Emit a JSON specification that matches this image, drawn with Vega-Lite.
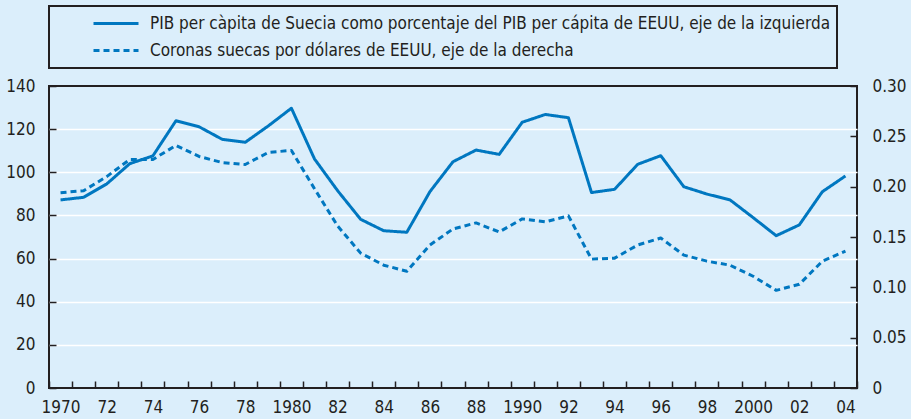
{
  "$schema": "https://vega.github.io/schema/vega-lite/v6.json",
  "width": 808,
  "height": 302,
  "autosize": {"type": "none"},
  "padding": {"left": 49, "top": 86, "right": 54, "bottom": 31},
  "background": "#dbeefb",
  "config": {
    "view": {"stroke": "#231f20", "strokeWidth": 2, "fill": null},
    "font": "DejaVu Sans Condensed",
    "axis": {
      "labelFont": "DejaVu Sans Condensed",
      "labelFontSize": 17,
      "labelColor": "#231f20",
      "tickColor": "#231f20",
      "tickWidth": 1.5,
      "domain": false,
      "title": null
    },
    "legend": {
      "labelFont": "DejaVu Sans Condensed",
      "labelFontSize": 17,
      "labelColor": "#231f20",
      "strokeWidth": 2
    }
  },
  "data": {
    "values": [
      {"year": 1970, "pib": 87.2, "sek": 0.194},
      {"year": 1971, "pib": 88.4, "sek": 0.196},
      {"year": 1972, "pib": 94.6, "sek": 0.210},
      {"year": 1973, "pib": 104.0, "sek": 0.227},
      {"year": 1974, "pib": 107.6, "sek": 0.227},
      {"year": 1975, "pib": 123.9, "sek": 0.241},
      {"year": 1976, "pib": 121.1, "sek": 0.230},
      {"year": 1977, "pib": 115.3, "sek": 0.224},
      {"year": 1978, "pib": 113.9, "sek": 0.222},
      {"year": 1979, "pib": 121.5, "sek": 0.234},
      {"year": 1980, "pib": 129.7, "sek": 0.236},
      {"year": 1981, "pib": 106.2, "sek": 0.198},
      {"year": 1982, "pib": 91.5, "sek": 0.161},
      {"year": 1983, "pib": 78.2, "sek": 0.134},
      {"year": 1984, "pib": 72.9, "sek": 0.122},
      {"year": 1985, "pib": 72.2, "sek": 0.116},
      {"year": 1986, "pib": 91.0, "sek": 0.142},
      {"year": 1987, "pib": 104.9, "sek": 0.158},
      {"year": 1988, "pib": 110.3, "sek": 0.164},
      {"year": 1989, "pib": 108.3, "sek": 0.155},
      {"year": 1990, "pib": 123.2, "sek": 0.168},
      {"year": 1991, "pib": 126.8, "sek": 0.165},
      {"year": 1992, "pib": 125.3, "sek": 0.171},
      {"year": 1993, "pib": 90.6, "sek": 0.128},
      {"year": 1994, "pib": 92.1, "sek": 0.129},
      {"year": 1995, "pib": 103.7, "sek": 0.142},
      {"year": 1996, "pib": 107.7, "sek": 0.149},
      {"year": 1997, "pib": 93.3, "sek": 0.132},
      {"year": 1998, "pib": 89.9, "sek": 0.126},
      {"year": 1999, "pib": 87.2, "sek": 0.122},
      {"year": 2000, "pib": 79.0, "sek": 0.111},
      {"year": 2001, "pib": 70.6, "sek": 0.097},
      {"year": 2002, "pib": 75.6, "sek": 0.103},
      {"year": 2003, "pib": 91.0, "sek": 0.126},
      {"year": 2004, "pib": 98.3, "sek": 0.136}
    ]
  },
  "layer": [
    {
      "mark": {"type": "line", "strokeWidth": 3, "color": "#0077c0", "strokeJoin": "round"},
      "encoding": {
        "x": {
          "field": "year",
          "type": "ordinal",
          "bandPosition": 0.5,
          "scale": {"type": "band", "paddingInner": 0, "paddingOuter": 0},
          "axis": {
            "orient": "bottom",
            "tickBand": "extent",
            "tickExtra": false,
            "tickSize": -7,
            "labelPadding": 18,
            "labelAngle": 0,
            "labelOverlap": false,
            "grid": false,
            "labelExpr": "datum.extra ? '' : (datum.value % 2 == 1 ? '' : (datum.value % 10 == 0 ? toString(datum.value) : substring(toString(datum.value), 2)))"
          }
        },
        "y": {
          "field": "pib",
          "type": "quantitative",
          "scale": {"domain": [0, 140], "nice": false},
          "axis": {
            "orient": "left",
            "values": [0, 20, 40, 60, 80, 100, 120, 140],
            "tickSize": -7,
            "labelPadding": 21,
            "grid": true,
            "gridColor": "#ffffff",
            "gridWidth": 1.5,
            "gridOpacity": {"condition": {"test": "datum.value == 0 || datum.value == 140", "value": 0}, "value": 1}
          }
        },
        "strokeDash": {
          "datum": "PIB per càpita de Suecia como porcentaje del PIB per cápita de EEUU, eje de la izquierda",
          "type": "nominal",
          "scale": {
            "domain": [
              "PIB per càpita de Suecia como porcentaje del PIB per cápita de EEUU, eje de la izquierda",
              "Coronas suecas por dólares de EEUU, eje de la derecha"
            ],
            "range": [[1, 0], [6, 4]]
          },
          "legend": {
            "title": null,
            "orient": "none",
            "legendX": 0,
            "legendY": -80,
            "padding": 7,
            "strokeColor": "#231f20",
            "symbolType": "stroke",
            "symbolSize": 2025,
            "symbolStrokeWidth": 3,
            "symbolStrokeColor": "#0077c0",
            "symbolOffset": 36,
            "labelOffset": 10,
            "labelLimit": 1000,
            "clipHeight": 21,
            "rowPadding": 6
          }
        }
      }
    },
    {
      "mark": {"type": "line", "strokeWidth": 3, "color": "#0077c0", "strokeJoin": "round"},
      "encoding": {
        "x": {"field": "year", "type": "ordinal", "bandPosition": 0.5},
        "y": {
          "field": "sek",
          "type": "quantitative",
          "scale": {"domain": [0, 0.3], "nice": false},
          "axis": {
            "orient": "right",
            "values": [0, 0.05, 0.1, 0.15, 0.2, 0.25, 0.3],
            "format": ".2f",
            "labelExpr": "datum.value == 0 ? '0' : datum.label",
            "tickSize": -7,
            "labelPadding": 22,
            "grid": false
          }
        },
        "strokeDash": {"datum": "Coronas suecas por dólares de EEUU, eje de la derecha", "type": "nominal"}
      }
    }
  ],
  "resolve": {"scale": {"y": "independent"}}
}
